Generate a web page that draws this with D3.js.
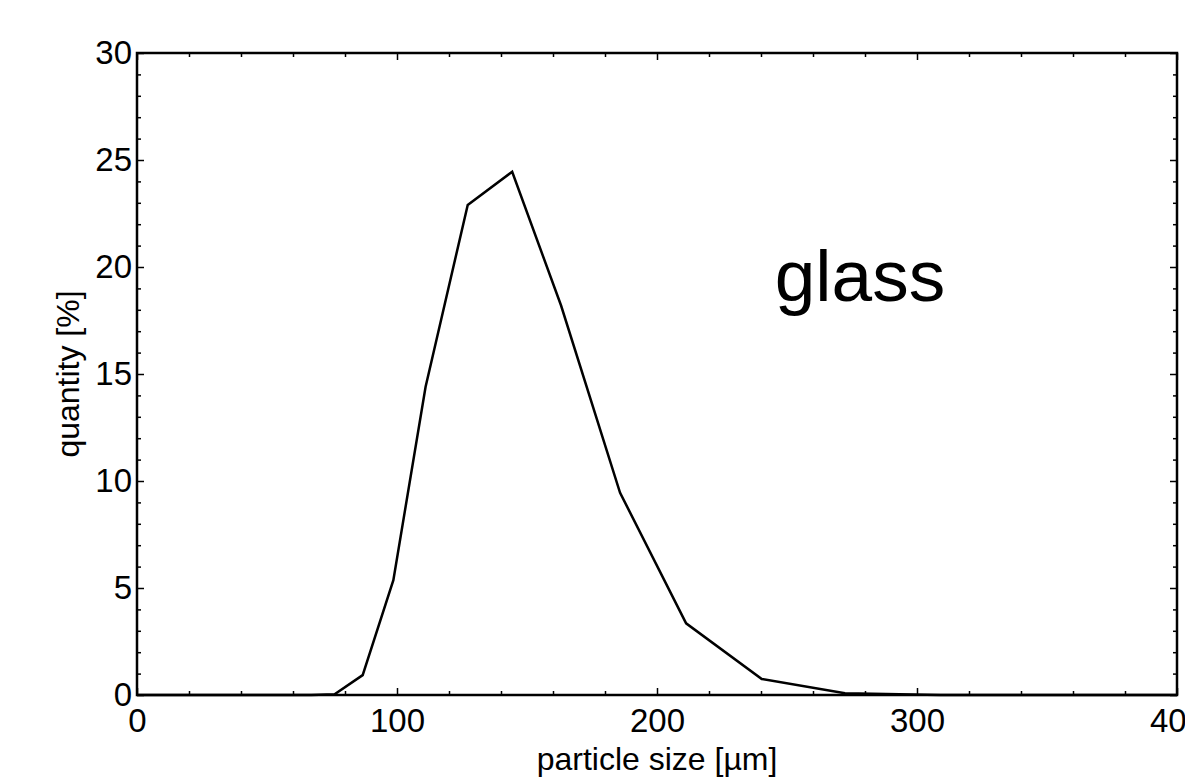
<!DOCTYPE html>
<html>
<head>
<meta charset="utf-8">
<script src="https://cdn.jsdelivr.net/npm/d3@7"></script>
<style>
  body { margin: 0; background: #fff; }
  svg text { font-family: "Liberation Sans", Arial, sans-serif; fill: #000; }
</style>
</head>
<body>
<div class="graph"></div>
<script>
(() => {
// particle size distribution
var sizes    = [0, 67, 76, 86.8, 98.6, 111, 127.2, 144.3, 163.1, 185.8, 211.2, 240.3, 272.3, 309, 400];
var quantity = [0, 0, 0.03, 0.93, 5.37, 14.4, 22.9, 24.45, 18.2, 9.45, 3.35, 0.75, 0.08, 0, 0];
var xTicks = [0, 100, 200, 300, 400];
var yTicks = [0, 5, 10, 15, 20, 25, 30];
var label = 'glass';

var margin = {top: 53, right: 8, bottom: 87, left: 137},
    width = 1185 - margin.left - margin.right,
    height = 782 - margin.top - margin.bottom;

var svg = d3.select('div.graph')
    .append('svg')
        .attr('width', 1185)
        .attr('height', 782)
    .append('g')
        .attr('transform', 'translate(' + margin.left + ',' + margin.top + ')');

var x = d3.scaleLinear().domain([0, 400]).range([0, width]);
var y = d3.scaleLinear().domain([0, 30]).range([height, 0]);

var data = sizes.map((s, i) => ({s: s, q: quantity[i]}));

var xMinor = d3.range(0, 401, 20).filter((v) => v % 100 !== 0);
var yMinor = d3.range(0, 31, 1).filter((v) => v % 5 !== 0);

function styleAxis(g) {
    g.select('.domain').remove();
    g.selectAll('.tick line').attr('stroke', '#000').attr('stroke-width', 1.5);
}

// major + minor ticks, all pointing inward, on all four sides
svg.append('g')
    .attr('transform', 'translate(0,' + height + ')')
    .call(d3.axisBottom(x).tickValues(xTicks).tickSize(-7).tickPadding(14).tickFormat(d3.format('d')))
    .call(styleAxis)
    .call((g) => g.selectAll('text').style('font-size', '33px').attr('dy', '0.71em'));
svg.append('g')
    .attr('transform', 'translate(0,' + height + ')')
    .call(d3.axisBottom(x).tickValues(xMinor).tickSize(-4).tickFormat(''))
    .call(styleAxis);
svg.append('g')
    .call(d3.axisTop(x).tickValues(xTicks).tickSize(-7).tickFormat(''))
    .call(styleAxis);
svg.append('g')
    .call(d3.axisTop(x).tickValues(xMinor).tickSize(-4).tickFormat(''))
    .call(styleAxis);

svg.append('g')
    .call(d3.axisLeft(y).tickValues(yTicks).tickSize(-7).tickPadding(5))
    .call(styleAxis)
    .call((g) => g.selectAll('text').style('font-size', '33px'));
svg.append('g')
    .call(d3.axisLeft(y).tickValues(yMinor).tickSize(-4).tickFormat(''))
    .call(styleAxis);
svg.append('g')
    .attr('transform', 'translate(' + width + ',0)')
    .call(d3.axisRight(y).tickValues(yTicks).tickSize(-7).tickFormat(''))
    .call(styleAxis);
svg.append('g')
    .attr('transform', 'translate(' + width + ',0)')
    .call(d3.axisRight(y).tickValues(yMinor).tickSize(-4).tickFormat(''))
    .call(styleAxis);

// frame
svg.append('rect')
    .attr('width', width)
    .attr('height', height)
    .attr('fill', 'none')
    .attr('stroke', '#000')
    .attr('stroke-width', 2.5);

var line = d3.line()
    .x((d) => x(d.s))
    .y((d) => y(d.q));

svg.append('path')
    .datum(data)
    .attr('d', line)
    .attr('fill', 'none')
    .attr('stroke', '#000')
    .attr('stroke-width', 2.5)
    .attr('stroke-linejoin', 'miter');

svg.append('text')
    .attr('x', width / 2)
    .attr('y', height + 75)
    .attr('text-anchor', 'middle')
    .style('font-size', '32px')
    .text('particle size [\u00b5m]');

svg.append('text')
    .attr('transform', 'translate(' + (-58) + ',' + (height / 2) + ') rotate(-90)')
    .attr('text-anchor', 'middle')
    .style('font-size', '32px')
    .text('quantity [%]');

svg.append('text')
    .attr('x', x(245.3))
    .attr('y', y(18.4))
    .style('font-size', '73px')
    .text(label);
})();
</script>
</body>
</html>
